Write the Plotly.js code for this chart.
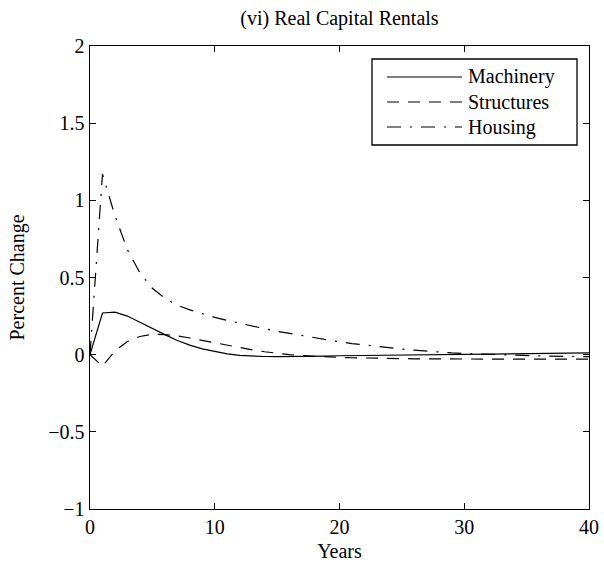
<!DOCTYPE html>
<html>
<head>
<meta charset="utf-8">
<script src="https://cdn.plot.ly/plotly-3.0.1.min.js"></script>
<style>html,body{margin:0;padding:0;background:#fff;}#chart{width:604px;height:565px;}</style>
</head>
<body>
<div id="chart"></div>
<script>
// ---- data ----
const years = [0,1,2,3,4,5,6,7,8,9,10,11,12,13,14,15,16,17,18,19,20,21,22,23,24,25,26,27,28,29,30,31,32,33,34,35,36,37,38,39,40];
const machinery = [0,0.27,0.275,0.25,0.21,0.168,0.13,0.092,0.062,0.038,0.019,0.005,-0.005,-0.01,-0.012,-0.013,-0.013,-0.012,-0.011,-0.009,-0.007,-0.006,-0.005,-0.004,-0.003,-0.002,-0.001,0.0,0.001,0.002,0.003,0.004,0.005,0.005,0.006,0.007,0.008,0.009,0.009,0.010,0.011];
const structures = [0,-0.075,0.025,0.085,0.118,0.132,0.13,0.122,0.108,0.092,0.076,0.06,0.045,0.031,0.019,0.008,0.0,-0.006,-0.011,-0.015,-0.018,-0.02,-0.022,-0.024,-0.025,-0.026,-0.027,-0.027,-0.028,-0.028,-0.028,-0.029,-0.029,-0.029,-0.029,-0.029,-0.029,-0.029,-0.029,-0.029,-0.029];
const housing = [0,1.17,0.9,0.68,0.53,0.43,0.365,0.32,0.29,0.264,0.242,0.222,0.203,0.185,0.168,0.151,0.137,0.123,0.109,0.095,0.083,0.072,0.062,0.053,0.045,0.036,0.029,0.022,0.016,0.011,0.007,0.004,0.001,-0.002,-0.004,-0.006,-0.008,-0.01,-0.011,-0.012,-0.013];
const seriesNames = ["Machinery","Structures","Housing"];
const xTicks = [0,10,20,30,40];
const yTicks = [-1,-0.5,0,0.5,1,1.5,2];
const yTickLabels = ["\u22121","\u22120.5","0","0.5","1","1.5","2"];
const titleText = "(vi) Real Capital Rentals";
const xTitle = "Years";
const yTitle = "Percent Change";

// ---- style ----
const FONT = "Liberation Serif, Times New Roman, serif";
const dashes = ["solid", "12px,9px", "14px,9px,2px,9px"];
const seriesData = [machinery, structures, housing];

const W = 604, H = 565;
const M = {l: 90, r: 15, t: 46, b: 56};
const pw = W - M.l - M.r, ph = H - M.t - M.b;
const px2x = p => (p - M.l) / pw;
const px2y = p => (H - M.b - p) / ph;

const traces = seriesData.map((s, i) => ({
  x: years, y: s, type: "scatter", mode: "lines", name: seriesNames[i],
  showlegend: false,
  line: {color: "#000", width: 1.2, dash: dashes[i]}
}));

// custom MATLAB-style legend
const shapes = [{
  type: "rect", xref: "paper", yref: "paper",
  x0: px2x(372), x1: px2x(577), y0: px2y(59), y1: px2y(145),
  line: {color: "#000", width: 1.3}, fillcolor: "#fff", layer: "above"
}];
const annotations = [];
const rowY = [77, 102, 127];
seriesNames.forEach((n, i) => {
  shapes.push({
    type: "line", xref: "paper", yref: "paper",
    x0: px2x(387), x1: px2x(462), y0: px2y(rowY[i]), y1: px2y(rowY[i]),
    line: {color: "#000", width: 1.2, dash: dashes[i]}, layer: "above"
  });
  annotations.push({
    xref: "paper", yref: "paper", x: px2x(466), y: px2y(rowY[i]),
    xanchor: "left", yanchor: "middle", showarrow: false, text: n,
    font: {family: FONT, size: 20, color: "#000"}
  });
});

const axisCommon = {
  showline: true, linecolor: "#000", linewidth: 1.4, mirror: "allticks",
  ticks: "inside", ticklen: 6, tickwidth: 1, tickcolor: "#000",
  showgrid: false, zeroline: false,
  tickfont: {family: FONT, size: 20, color: "#000"}
};

const layout = {
  width: W, height: H, margin: M,
  paper_bgcolor: "#fff", plot_bgcolor: "#fff",
  showlegend: false,
  title: {text: titleText, font: {family: FONT, size: 20, color: "#000"}, x: 0.5 * (M.l + (W - M.r)) / W, xanchor: "center", y: 1 - 18 / H, yanchor: "middle"},
  xaxis: Object.assign({}, axisCommon, {
    range: [0, 40], tickmode: "array", tickvals: xTicks, ticktext: xTicks.map(String),
    title: {text: xTitle, font: {family: FONT, size: 20, color: "#000"}, standoff: 6}
  }),
  yaxis: Object.assign({}, axisCommon, {
    range: [-1, 2], tickmode: "array", tickvals: yTicks, ticktext: yTickLabels,
    title: {text: yTitle, font: {family: FONT, size: 20, color: "#000"}, standoff: 18}
  }),
  shapes: shapes, annotations: annotations
};

Plotly.newPlot("chart", traces, layout, {displayModeBar: false, staticPlot: true});
</script>
</body>
</html>
